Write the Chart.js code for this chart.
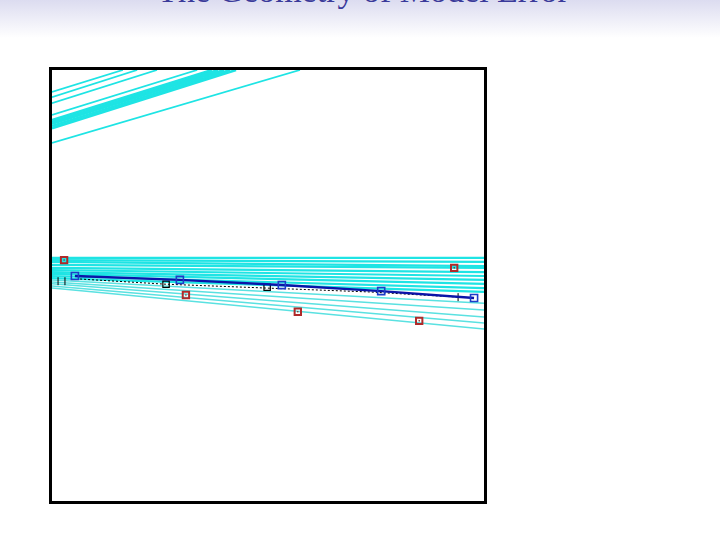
<!DOCTYPE html>
<html>
<head>
<meta charset="utf-8">
<script src="https://cdn.jsdelivr.net/npm/chart.js@4/dist/chart.umd.min.js"></script>
<style>
  html, body { margin: 0; padding: 0; background: #fff; }
  #wrap { position: relative; width: 720px; height: 540px; overflow: hidden; }
  #band {
    position: absolute; left: 0; top: 0; width: 720px; height: 38px;
    background: linear-gradient(#dcdcf0, #ffffff);
  }
  #title {
    position: absolute; left: 0; top: -28px; width: 720px; text-align: center;
    font-family: "Liberation Serif", "DejaVu Serif", serif; font-size: 34px;
    color: #3a3a9a; white-space: nowrap; padding-left: 6px; box-sizing: border-box;
  }
  canvas { position: absolute; left: 0; top: 0; }
</style>
</head>
<body>
<div id="wrap">
  <div id="band"></div>
  <div id="title">The Geometry of Model Error</div>
  <canvas id="c" width="720" height="540"></canvas>
</div>
<script>
/* ---- data (x 0..10, y 0..10, no ticks shown) ---- */
// observed points (red squares)
const obsX = [0.28, 3.10, 5.69, 8.50, 9.31];
const obsY = [5.59, 4.78, 4.39, 4.18, 5.41];

// fitted points (blue squares + dark blue line)
const fitX = [0.53, 2.96, 5.32, 7.62, 9.77];
const fitY = [5.22, 5.13, 5.01, 4.87, 4.71];

// reference line (black dotted)
const refX = [0.65, 2.64, 4.98, 7.36, 9.40];
const refY = [5.15, 5.03, 4.94, 4.85, 4.73];

// black markers
const boxX = [2.64, 4.98];
const boxY = [5.03, 4.96];
const tickX = [0.14, 0.30, 9.40];
const tickY = [5.10, 5.10, 4.73];

// near-horizontal fan of cyan lines: y at x=0 and y at x=10
const midLeft  = [5.64, 5.59, 5.55, 5.48, 5.41, 5.36, 5.31, 5.27, 5.22, 5.17, 5.13, 5.08, 5.04, 4.99, 4.94];
const midRight = [5.64, 5.55, 5.45, 5.41, 5.31, 5.22, 5.13, 5.04, 4.94, 4.85, 4.59, 4.43, 4.27, 4.13, 3.99];

// steep cyan lines in the upper left: y at x=0, and x where they hit y=10
const upLeft = [9.49, 9.37, 9.23, 8.96, 8.84, 8.79, 8.75, 8.70, 8.65, 8.31];
const upTopX = [1.64, 1.97, 2.43, 3.36, 3.70, 3.84, 3.98, 4.12, 4.26, 5.74];

const CYAN = "rgb(30,228,228)";
const CYAN_LIGHT = "rgb(90,225,225)";

function pts(xs, ys) {
  return xs.map((x, i) => ({ x: x, y: ys[i] }));
}

const datasets = [];

// markers first: lower index is painted on top
datasets.push({
  data: pts(obsX, obsY), pointStyle: "circle", pointRadius: 0.8,
  borderColor: "#7a2020", borderWidth: 0, backgroundColor: "#7a2020"
});
datasets.push({
  data: pts(obsX, obsY), pointStyle: "rect", pointRadius: 4.5,
  borderColor: "#b02a2a", borderWidth: 2, backgroundColor: "rgba(255,255,255,0)"
});
datasets.push({
  data: pts(fitX, fitY), showLine: true, borderColor: "#0a14a8", borderWidth: 2.4,
  pointStyle: "rect", pointRadius: 5, pointBorderColor: "#1e3cc8",
  pointBorderWidth: 1.6, pointBackgroundColor: "rgba(255,255,255,0)"
});
datasets.push({
  data: pts(tickX, tickY), pointStyle: "line", rotation: 90, pointRadius: 4,
  borderColor: "#000", borderWidth: 1
});
datasets.push({
  data: pts(refX, refY), showLine: true, borderColor: "#000", borderWidth: 1,
  borderDash: [2, 2], pointRadius: 0
});
datasets.push({
  data: pts(boxX, boxY), pointStyle: "rect", pointRadius: 4.5,
  borderColor: "#000", borderWidth: 1.2, backgroundColor: "rgba(0,0,0,0)"
});

midLeft.forEach((a, i) => {
  datasets.push({
    data: [{ x: 0, y: a }, { x: 10, y: midRight[i] }],
    showLine: true,
    borderColor: i < 10 ? CYAN : CYAN_LIGHT,
    borderWidth: i < 10 ? 2.2 : 1.5,
    pointRadius: 0
  });
});

upLeft.forEach((a, i) => {
  datasets.push({
    data: [{ x: 0, y: a }, { x: upTopX[i], y: 10 }],
    showLine: true, borderColor: CYAN, borderWidth: i >= 4 && i <= 8 ? 2.5 : 1.8,
    pointRadius: 0
  });
});

/* ---- frame plugin ---- */
const frame = {
  id: "frame",
  afterDraw(chart) {
    const a = chart.chartArea;
    const g = chart.ctx;
    g.save();
    g.strokeStyle = "#000";
    g.lineWidth = 3;
    g.strokeRect(a.left - 1.5, a.top - 1.5, a.right - a.left + 3, a.bottom - a.top + 3);
    g.restore();
  }
};

new Chart(document.getElementById("c"), {
  type: "scatter",
  data: { datasets: datasets },
  options: {
    responsive: false,
    animation: false,
    layout: { padding: { left: 52, top: 70, right: 236, bottom: 39 } },
    plugins: { legend: { display: false }, tooltip: { enabled: false } },
    scales: {
      x: { type: "linear", min: 0, max: 10, display: false },
      y: { type: "linear", min: 0, max: 10, display: false }
    }
  },
  plugins: [frame]
});
</script>
</body>
</html>
